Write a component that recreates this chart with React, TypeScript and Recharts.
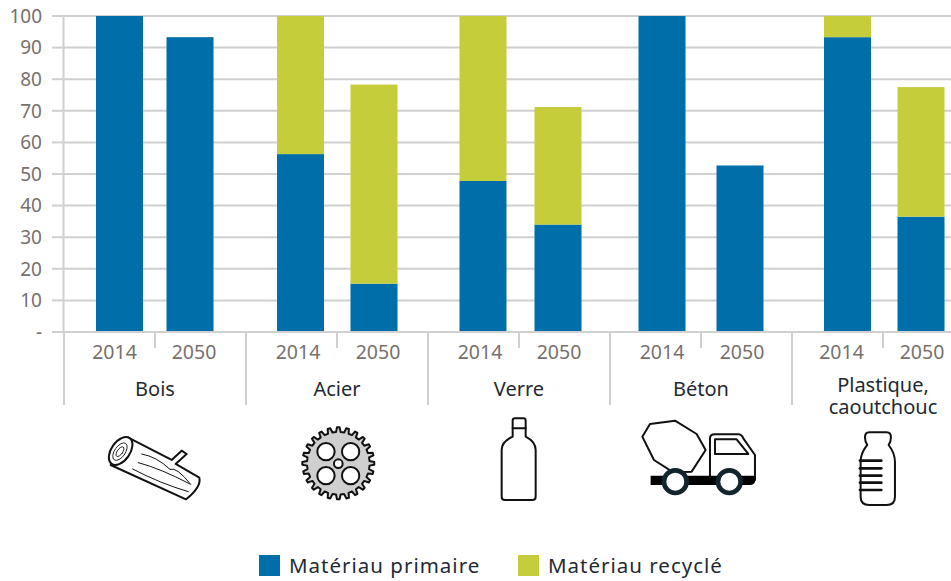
import React from "react";
import { BarChart, Bar, XAxis, YAxis, CartesianGrid, Legend } from "recharts";

const years = ["2014", "2050", "2014", "2050", "2014", "2050", "2014", "2050", "2014", "2050"];
const materials = ["Bois", "Acier", "Verre", "Béton", "Plastique,\ncaoutchouc"];
const primary = [100, 93.3, 56.3, 15.3, 47.8, 34, 100, 52.7, 93.3, 36.5];
const recycled = [0, 0, 43.7, 63, 52.2, 37.2, 0, 0, 6.7, 41];
const yTicks = [0, 10, 20, 30, 40, 50, 60, 70, 80, 90, 100];

const rows = years.map((year, i) => ({
  key: i,
  year,
  primary: primary[i],
  recycled: recycled[i],
}));

// the source pulls each pair of bars towards the middle of its group
const barNudge = [10.5, -10, 9.5, -8, 10, -6, 7, -6, 10.5, -7];
const labelNudge = [5.5, -6, 7, -4, 7, -5, 7, -4, 4.5, -6];

const BLUE = "#006fa9";
const GREEN = "#c5cd3b";
const RULE = "#d0d0d0";
const FONT = "'Noto Sans', sans-serif";
const STEP = 91;

const NudgedBar = (props: any) => {
  const { x, y, width, height, fill, index } = props;
  if (!height) return null;
  return <rect x={x + barNudge[index]} y={y} width={width} height={height} fill={fill} />;
};

const YearTick = (props: any) => {
  const { x, payload } = props;
  const i = payload.index;
  const year = years[i];
  const first = i % 2 === 0;
  return (
    <g>
      <text x={x + labelNudge[i]} y={351.5} textAnchor="middle" dominantBaseline="central" fontSize={19.5} fill="#77706c" fontFamily={FONT}>
        {year}
      </text>
      {first && (
        <>
          <line x1={x - STEP / 2 + 0.5} x2={x - STEP / 2 + 0.5} y1={332} y2={405} stroke={RULE} strokeWidth={2} />
          <line x1={x + STEP / 2 + 0.5} x2={x + STEP / 2 + 0.5} y1={332} y2={348} stroke={RULE} strokeWidth={2} />
          <text textAnchor="middle" fontSize={20} fill="#1f2a33" fontFamily={FONT}>
            {materials[i / 2].split("\n").map((line, n, all) => (
              <tspan key={n} x={x + STEP / 2 + 0.5} y={all.length > 1 ? 392 + n * 22 : 396}>
                {line}
              </tspan>
            ))}
          </text>
        </>
      )}
    </g>
  );
};

const LegendRow = ({ payload }: any) => (
  <div style={{ position: "relative", height: 30 }}>
    {(payload || []).map((item: any, i: number) => (
      <div key={item.value} style={{ position: "absolute", left: i === 0 ? 0 : 259, top: 0, display: "flex", alignItems: "center", whiteSpace: "nowrap" }}>
        <span style={{ width: 21, height: 21, background: item.color, marginRight: 9 }} />
        <span style={{ fontFamily: FONT, fontSize: 20.5, letterSpacing: 1, color: "#1f2a33" }}>{item.value}</span>
      </div>
    ))}
  </div>
);

const teeth = 24;
const gearPath = Array.from({ length: teeth }, (_, i) => {
  const a = (i / teeth) * Math.PI * 2;
  const w = (Math.PI * 2) / teeth;
  const p = (r: number, t: number) => `${(1015 + r * Math.cos(t)).toFixed(1)} ${(490 + r * Math.sin(t)).toFixed(1)}`;
  return `${i === 0 ? "M" : "L"}${p(94, a - w * 0.28)} L${p(108, a - w * 0.14)} L${p(108, a + w * 0.14)} L${p(94, a + w * 0.28)}`;
}).join(" ") + " Z";

const Icons = () => (
  <svg width={951} height={581} style={{ position: "absolute", left: 0, top: 0, pointerEvents: "none" }}>
    <g transform="translate(0 300) scale(0.3333)" fill="none" stroke="#111" strokeLinejoin="round" strokeLinecap="round">
      <path strokeWidth={6} d="M385 413 L515 480 L545 452 L560 462 L527 492 L598 533 Q605 560 558 598 L332 495" />
      <ellipse cx={362} cy={453} rx={28} ry={47} transform="rotate(35 362 453)" strokeWidth={6} fill="#fff" />
      <ellipse cx={360} cy={455} rx={16} ry={30} transform="rotate(35 360 455)" strokeWidth={2.5} />
      <ellipse cx={360} cy={455} rx={8} ry={17} transform="rotate(35 360 455)" strokeWidth={2.5} />
      <path strokeWidth={3} d="M425 462 Q470 470 510 508 Q530 500 572 553" />
      <path strokeWidth={3} d="M415 488 Q480 505 570 552" />
      <path strokeWidth={3} d="M398 507 Q480 550 565 575" />
      <path d={gearPath} fill="#cfcfcf" strokeWidth={6} />
      {[[978, 455], [1052, 455], [978, 527], [1052, 527], [1015, 491]].map(([cx, cy], i) => (
        <circle key={i} cx={cx} cy={cy} r={i === 4 ? 13 : 26} fill="#fff" strokeWidth={6} />
      ))}
    </g>
    <g transform="translate(480 300) scale(0.3333)" fill="none" stroke="#111" strokeLinejoin="round" strokeLinecap="round">
      <path strokeWidth={6} d="M98 362 Q98 355 105 355 L130 355 Q137 355 137 362 L137 410 Q167 425 167 450 L167 590 Q167 600 157 600 L75 600 Q65 600 65 590 L65 450 Q65 425 98 410 Z" />
      <path strokeWidth={6} d="M98 385 L137 385" />
      <path strokeWidth={6} d="M487 410 L510 372 L585 362 L650 402 L677 450 L635 515 L580 517 L522 480 Z" />
      <path strokeWidth={6} d="M690 530 L690 415 Q690 403 705 403 L775 403 Q785 403 790 415 L825 465 L825 540" />
      <path strokeWidth={6} d="M705 418 L770 418 L805 462 L705 462 Z" />
      <path stroke="none" fill="#000" d="M512 527 L826 527 L826 540 Q826 555 808 555 L512 555 Z" />
      <circle cx={586} cy={545} r={34} fill="#fff" stroke="#12242c" strokeWidth={14} />
      <circle cx={748} cy={545} r={34} fill="#fff" stroke="#12242c" strokeWidth={14} />
      <path strokeWidth={6} d="M1168 397 L1220 397 Q1233 397 1233 412 Q1233 425 1226 435 Q1245 460 1245 485 L1245 590 Q1245 615 1220 615 L1168 615 Q1142 615 1142 590 L1142 485 Q1142 460 1162 435 Q1155 425 1155 412 Q1155 397 1168 397 Z" />
      {[482, 505, 527, 548, 570].map((y) => (
        <path key={y} strokeWidth={8} d={`M1140 ${y} L1204 ${y}`} />
      ))}
    </g>
  </svg>
);

export default function App() {
  return (
    <div style={{ position: "fixed", left: 0, top: 0, width: 951, height: 581, overflow: "hidden", background: "#fff" }}>
      <BarChart width={973.5} height={581} data={rows} margin={{ top: 16, right: 0, bottom: 146, left: 0 }} barCategoryGap={0}>
        <CartesianGrid vertical={false} stroke={RULE} strokeWidth={2} />
        <XAxis dataKey="key" type="category" height={73} interval={0} axisLine={{ stroke: RULE, strokeWidth: 2 }} tickLine={false} tick={<YearTick />} />
        <YAxis
          width={63.5}
          domain={[0, 100]}
          ticks={yTicks}
          interval={0}
          tickFormatter={(v: number) => (v === 0 ? "-" : String(v))}
          tick={{ fontSize: 19, fill: "#77706c", fontFamily: FONT }}
          tickSize={11.5}
          tickMargin={10}
          axisLine={{ stroke: RULE, strokeWidth: 2 }}
          tickLine={{ stroke: RULE, strokeWidth: 2 }}
        />
        <Legend content={<LegendRow />} wrapperStyle={{ left: 259, top: 551, width: 500, height: 30 }} />
        <Bar dataKey="primary" name="Matériau primaire" stackId="a" fill={BLUE} barSize={47} shape={<NudgedBar />} isAnimationActive={false} />
        <Bar dataKey="recycled" name="Matériau recyclé" stackId="a" fill={GREEN} barSize={47} shape={<NudgedBar />} isAnimationActive={false} />
      </BarChart>
      <Icons />
    </div>
  );
}
